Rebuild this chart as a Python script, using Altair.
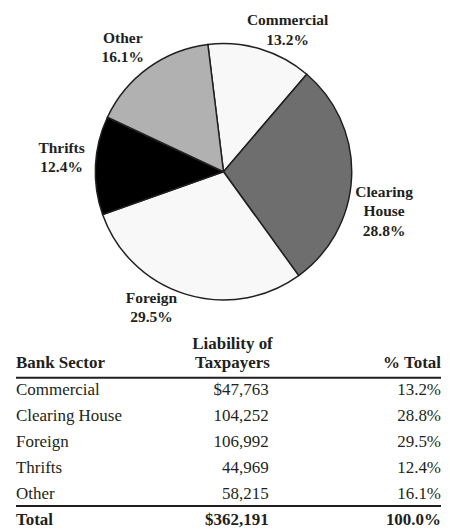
import math
import altair as alt
import pandas as pd

# ---------------- data ----------------
sectors = ["Commercial", "Clearing House", "Foreign", "Thrifts", "Other"]
pie_names = ["Commercial", "Clearing\nHouse", "Foreign", "Thrifts", "Other"]
liability = [47763, 104252, 106992, 44969, 58215]
pct_total = [13.2, 28.8, 29.5, 12.4, 16.1]
total_liability = 362191
total_pct = 100.0
slice_fill = ["#f8f8f8", "#6e6e6e", "#f8f8f8", "#000000", "#b1b1b1"]

hdr_sector = "Bank Sector"
hdr_liab = "Liability of\nTaxpayers"
hdr_pct = "% Total"

INK = "#231f20"
FONT = "Liberation Serif"

# ---------------- pie ----------------
start = -7.0 * math.pi / 180.0
theta_scale = alt.Scale(domain=[0, sum(liability)], range=[start, start + 2 * math.pi])

pie_df = pd.DataFrame({
    "sector": sectors,
    "ord": list(range(len(sectors))),
    "value": liability,
    "label": [f"{n}\n{p:.1f}%" for n, p in zip(pie_names, pct_total)],
})

base = alt.Chart(pie_df).transform_stack(
    stack="value", groupby=[], as_=["v0", "v1"], sort=[alt.SortField("ord")]
).transform_calculate(mid="(datum.v0 + datum.v1) / 2")

arcs = base.mark_arc(outerRadius=128.5, stroke=INK, strokeWidth=1.5).encode(
    theta=alt.Theta("v0:Q", scale=theta_scale),
    theta2="v1:Q",
    color=alt.Color("sector:N", scale=alt.Scale(domain=sectors, range=slice_fill), legend=None),
)

# label placement nudges: extra angle (deg) from slice middle, radius (px) of first baseline
nudge = {
    "Commercial": (6.9, 160.2),
    "Clearing House": (6.55, 162.9),
    "Foreign": (11.5, 150.1),
    "Thrifts": (3.9, 163.4),
    "Other": (357.96, 164.1),
}
label_layers = []
for s in sectors:
    d_deg, r = nudge[s]
    label_layers.append(
        base.transform_filter(alt.datum.sector == s).mark_text(
            radius=r, thetaOffset=d_deg * math.pi / 180.0, font=FONT, fontSize=15.5,
            fontWeight="bold", color=INK, lineBreak="\n", lineHeight=19.5,
            align="center", baseline="alphabetic",
        ).encode(theta=alt.Theta("mid:Q", scale=theta_scale), text="label:N")
    )

pie = alt.layer(arcs, *label_layers).properties(width=432, height=327)

# ---------------- table ----------------
rows_domain = ["hdr"] + sectors + ["Total"]
recs = []
recs.append({"row": "hdr", "col": "sector", "text": hdr_sector, "bold": True})
recs.append({"row": "hdr", "col": "liabhdr", "text": hdr_liab, "bold": True})
recs.append({"row": "hdr", "col": "pct", "text": hdr_pct, "bold": True})
for i, (s, v, p) in enumerate(zip(sectors, liability, pct_total)):
    recs.append({"row": s, "col": "sector", "text": s, "bold": False})
    recs.append({"row": s, "col": "value", "text": (f"${v:,}" if i == 0 else f"{v:,}"), "bold": False})
    recs.append({"row": s, "col": "pct", "text": f"{p:.1f}%", "bold": False})
recs.append({"row": "Total", "col": "sector", "text": "Total", "bold": True})
recs.append({"row": "Total", "col": "value", "text": f"${total_liability:,}", "bold": True})
recs.append({"row": "Total", "col": "pct", "text": f"{total_pct:.1f}%", "bold": True})
tab_df = pd.DataFrame(recs)

yenc = alt.Y("row:N", scale=alt.Scale(type="point", domain=rows_domain, range=[32.7, 190], padding=0), axis=None)
tbase = alt.Chart(tab_df)


def col_layer(col, bold, x, align, **kw):
    return tbase.transform_filter(
        (alt.datum.col == col) & (alt.datum.bold == bold)
    ).mark_text(
        font=FONT, fontSize=17, fontWeight=("bold" if bold else "normal"), color=INK,
        align=align, baseline="alphabetic", lineBreak="\n", lineHeight=19.4, **kw
    ).encode(x=alt.value(x), y=yenc, text="text:N")


t_layers = [
    col_layer("sector", False, 8, "left"),
    col_layer("value", False, 261.3, "right"),
    col_layer("pct", False, 434, "right"),
    col_layer("sector", True, 8, "left"),
    col_layer("value", True, 261.3, "right"),
    col_layer("pct", True, 434, "right"),
    col_layer("liabhdr", True, 225, "center", dy=-19.4),
]

rule1 = alt.Chart(pd.DataFrame({"r": [0]})).mark_rule(color=INK, strokeWidth=2).encode(
    x=alt.value(8), x2=alt.value(434), y=alt.value(42))
rule2 = alt.Chart(pd.DataFrame({"r": [0]})).mark_rule(color=INK, strokeWidth=2).encode(
    x=alt.value(8), x2=alt.value(434), y=alt.value(170.5))

table = alt.layer(rule1, rule2, *t_layers).properties(width=434, height=194)

chart = alt.vconcat(pie, table, spacing=0).properties(padding=0).configure_view(stroke=None)

chart.save("out.html", embed_options={"renderer": "svg", "actions": False})
